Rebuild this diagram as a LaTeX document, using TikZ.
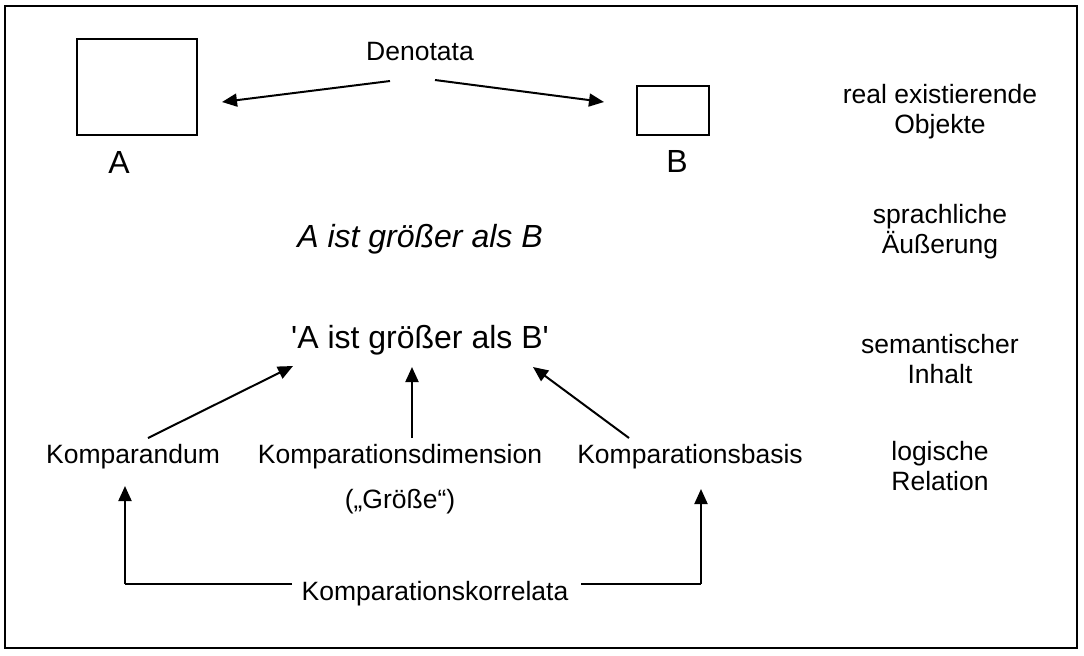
\documentclass[tikz,border=0pt]{standalone}
\usepackage{fontspec}
\setmainfont{Liberation Sans}[Ligatures=TeXOff]
\usetikzlibrary{arrows.meta}
\tikzset{
  lbl/.style={anchor=base, inner sep=0pt, font=\fontsize{13.25}{15}\selectfont},
  big/.style={anchor=base, inner sep=0pt, font=\fontsize{16}{19}\selectfont},
  level/.style={anchor=base, inner sep=0pt, align=center, font=\fontsize{13.25}{15}\selectfont},
  obj/.style={draw, line width=1pt, inner sep=0pt},
  arr/.style={line width=1pt, -{Triangle[length=7.5pt,width=6.5pt]}},
  plain/.style={line width=1pt}
}
\begin{document}
\begin{tikzpicture}[x=0.5pt, y=-0.5pt]
\useasboundingbox (0,0) rectangle (1084,655);
% frame
\draw[line width=1.3pt] (5,6) rectangle (1077,648);

% objects
\draw[obj] (77,39) rectangle (197,135);
\draw[obj] (637,86) rectangle (709,135);
\coordinate (boxA) at (222,102);
\coordinate (boxB) at (604,102);
\node[big] (labA) at (119,173) {A};
\node[big] (labB) at (677,172) {B};

% denotata
\node[lbl] (den) at (420,60) {Denotata};
\coordinate (denL) at (390,81);
\coordinate (denR) at (435,80);
\draw[arr] (denL) -- (boxA);
\draw[arr] (denR) -- (boxB);

% utterance and content
\node[big] (utt) at (420,247) {\itshape A ist größer als B};
\node[big] (sem) at (420,348) {'A ist größer als B'};
\coordinate (semL) at (293,366);
\coordinate (semM) at (412,367);
\coordinate (semR) at (533,367);

% logical relation
\node[lbl] (kand) at (133,463) {Komparandum};
\node[lbl] (kdim) at (400,463) {Komparationsdimension};
\node[lbl] (kbas) at (690,463) {Komparationsbasis};
\node[lbl] (gr) at (400,508) {(„Größe“)};
\coordinate (kandT) at (148,438);
\coordinate (kdimT) at (412,438);
\coordinate (kbasT) at (629,438);
\draw[arr] (kandT) -- (semL);
\draw[arr] (kdimT) -- (semM);
\draw[arr] (kbasT) -- (semR);

% correlates
\node[lbl] (korr) at (435,600) {Komparationskorrelata};
\coordinate (kandB) at (125,486);
\coordinate (kbasB) at (701,489);
\coordinate (cL) at (125,584);
\coordinate (cR) at (701,584);
\coordinate (korrL) at (292,584);
\coordinate (korrR) at (581,584);
\draw[plain] (korrL) -- (cL);
\draw[arr] (cL) -- (kandB);
\draw[plain] (korrR) -- (cR);
\draw[arr] (cR) -- (kbasB);

% level labels (base = baseline of the second line)
\node[level] (lv1) at (940,133) {real existierende\\Objekte};
\node[level] (lv2) at (940,253) {sprachliche\\Äußerung};
\node[level] (lv3) at (940,383) {semantischer\\Inhalt};
\node[level] (lv4) at (940,490) {logische\\Relation};
\end{tikzpicture}
\end{document}
